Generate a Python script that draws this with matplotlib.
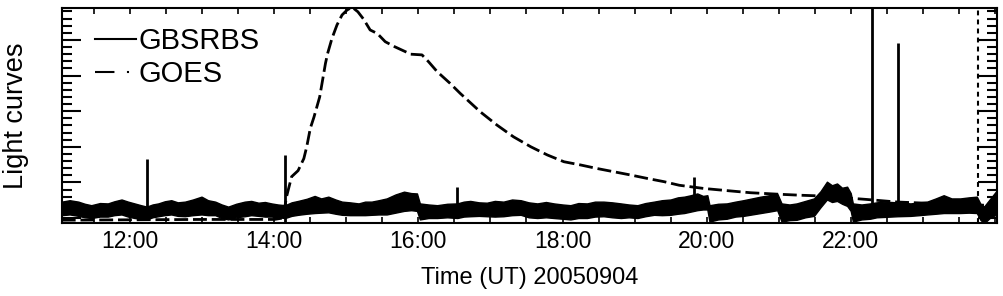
import numpy as np
import matplotlib
matplotlib.use('Agg')
import matplotlib.pyplot as plt
from matplotlib.lines import Line2D
from matplotlib.ticker import FixedLocator, MultipleLocator, FuncFormatter

plt.rcParams['font.family'] = 'Liberation Sans'
plt.rcParams['lines.scale_dashes'] = False

# GBSRBS band (time in hours UT, upper / lower edge of the noisy trace)
gb_t = [11.05, 11.16, 11.28, 11.37, 11.46, 11.58, 11.69, 11.78, 11.88, 11.97,
        12.06, 12.15, 12.23, 12.31, 12.39, 12.48, 12.57, 12.66, 12.76, 12.87,
        12.99, 13.08, 13.18, 13.27, 13.36, 13.47, 13.59, 13.68, 13.78, 13.87,
        13.96, 14.05, 14.15, 14.24, 14.33, 14.45, 14.56, 14.65, 14.75, 14.85,
        14.94, 15.05, 15.17, 15.26, 15.35, 15.45, 15.56, 15.68, 15.80, 15.90,
        15.98, 16.02, 16.14, 16.26, 16.40, 16.54, 16.63, 16.72, 16.84, 16.95,
        17.06, 17.18, 17.30, 17.42, 17.53, 17.65, 17.77, 17.88, 18.00, 18.11,
        18.22, 18.34, 18.45, 18.57, 18.69, 18.81, 18.92, 19.04, 19.15, 19.27,
        19.38, 19.50, 19.60, 19.69, 19.78, 19.87, 19.95, 20.01, 20.04, 20.16,
        20.28, 20.40, 20.51, 20.63, 20.75, 20.87, 20.98, 21.04, 21.15, 21.25,
        21.37, 21.49, 21.58, 21.67, 21.74, 21.81, 21.88, 21.95, 22.00, 22.03,
        22.15, 22.27, 22.36, 22.46, 22.65, 22.83, 22.95, 23.06, 23.18, 23.29,
        23.40, 23.52, 23.64, 23.75, 23.80, 23.85, 23.94, 24.03]
gb_hi = [0.46, 0.50, 0.46, 0.40, 0.36, 0.42, 0.41, 0.47, 0.52, 0.46,
         0.41, 0.36, 0.32, 0.38, 0.41, 0.47, 0.50, 0.44, 0.46, 0.52,
         0.60, 0.50, 0.46, 0.38, 0.32, 0.40, 0.46, 0.48, 0.43, 0.45,
         0.41, 0.38, 0.36, 0.44, 0.48, 0.54, 0.62, 0.55, 0.60, 0.52,
         0.46, 0.44, 0.41, 0.46, 0.46, 0.50, 0.55, 0.66, 0.74, 0.70,
         0.69, 0.41, 0.38, 0.36, 0.40, 0.41, 0.46, 0.48, 0.44, 0.43,
         0.48, 0.46, 0.52, 0.50, 0.44, 0.41, 0.45, 0.41, 0.38, 0.36,
         0.42, 0.41, 0.46, 0.46, 0.44, 0.41, 0.38, 0.36, 0.42, 0.46,
         0.50, 0.52, 0.58, 0.60, 0.64, 0.69, 0.62, 0.64, 0.36, 0.40,
         0.41, 0.46, 0.50, 0.55, 0.60, 0.64, 0.69, 0.41, 0.38, 0.41,
         0.48, 0.55, 0.75, 1.02, 0.92, 0.97, 0.85, 0.88, 0.70, 0.41,
         0.38, 0.41, 0.44, 0.46, 0.44, 0.41, 0.44, 0.46, 0.55, 0.64,
         0.55, 0.55, 0.58, 0.60, 0.40, 0.32, 0.55, 0.78]
gb_lo = [0.08, 0.10, 0.06, 0.02, 0.00, 0.04, 0.04, 0.08, 0.10, 0.04,
         0.00, -0.02, -0.04, 0.02, 0.05, 0.08, 0.10, 0.06, 0.05, 0.08,
         0.10, 0.08, 0.08, 0.00, -0.04, 0.02, 0.05, 0.08, 0.06, 0.04,
         0.04, 0.02, 0.00, 0.06, 0.09, 0.12, 0.14, 0.15, 0.16, 0.12,
         0.09, 0.08, 0.08, 0.08, 0.09, 0.10, 0.10, 0.15, 0.20, 0.22,
         0.20, -0.04, 0.00, 0.00, 0.02, 0.00, 0.04, 0.05, 0.06, 0.05,
         0.04, 0.05, 0.08, 0.09, 0.02, 0.00, 0.02, 0.00, -0.02, -0.04,
         0.00, 0.00, 0.04, 0.05, 0.02, 0.00, 0.02, 0.00, 0.05, 0.09,
         0.08, 0.09, 0.12, 0.14, 0.18, 0.22, 0.24, 0.24, -0.10, -0.04,
         -0.02, 0.04, 0.06, 0.10, 0.14, 0.18, 0.22, -0.10, -0.06, -0.05,
         0.02, 0.06, 0.30, 0.52, 0.45, 0.48, 0.40, 0.34, 0.20, -0.10,
         -0.04, -0.02, 0.02, 0.03, 0.05, 0.06, 0.08, 0.10, 0.12, 0.14,
         0.14, 0.14, 0.15, 0.14, -0.05, -0.15, 0.02, 0.10]

# GBSRBS spikes
spk_t = [12.23, 14.15, 16.53, 19.82, 22.29, 22.65]
spk_base = [0.10, -0.12, 0.20, 0.30, 0.10, 0.20]
spk_top = [1.65, 1.77, 0.88, 1.16, 6.20, 4.91]

# GOES soft X-ray curve
goes_t = [11.05, 12.0, 13.0, 14.0, 14.12, 14.17, 14.24, 14.33, 14.41, 14.45,
          14.50, 14.55, 14.63, 14.71, 14.74, 14.80, 14.87, 14.94, 15.01, 15.08,
          15.16, 15.24, 15.33, 15.43, 15.54, 15.67, 15.82, 15.89, 16.05, 16.14,
          16.26, 16.44, 16.58, 16.86, 17.09, 17.32, 17.56, 17.79, 18.02, 18.25,
          18.48, 18.71, 18.94, 19.18, 19.41, 19.62, 19.96, 20.28, 20.61, 20.98,
          21.30, 21.58, 22.23, 22.64, 23.0, 23.5, 24.03]
goes_v = [-0.06, -0.05, -0.04, -0.04, 0.0, 0.60, 1.16, 1.33, 1.67, 2.00,
          2.52, 2.83, 3.40, 4.34, 4.62, 5.04, 5.42, 5.70, 5.84, 5.92,
          5.79, 5.58, 5.28, 5.18, 4.95, 4.81, 4.67, 4.60, 4.58, 4.39,
          4.11, 3.78, 3.50, 2.98, 2.61, 2.28, 2.00, 1.77, 1.58, 1.49,
          1.39, 1.30, 1.21, 1.11, 1.02, 0.92, 0.83, 0.77, 0.71, 0.67,
          0.64, 0.62, 0.52, 0.45, 0.42, 0.38, 0.35]

t_marker = 23.76
hour_ticks = [12, 14, 16, 18, 20, 22]

fig = plt.figure(figsize=(10.04, 2.96), dpi=100)
ax = fig.add_axes([0.0615, 0.2466, 0.9315, 0.728])

ax.fill_between(gb_t, gb_lo, gb_hi, color='black', lw=1.0, edgecolor='black')
ax.vlines(spk_t, spk_base, spk_top, color='black', lw=2.0)
ax.plot(goes_t, goes_v, color='black', lw=2.0, dashes=(10, 3.5))
ax.axvline(t_marker, color='black', lw=1.5, dashes=(3.5, 3))

ax.set_xlim(11.05, 24.03)
ax.set_ylim(-0.14, 5.91)

ax.xaxis.set_major_locator(FixedLocator(hour_ticks))
ax.xaxis.set_minor_locator(MultipleLocator(0.5))
ax.xaxis.set_major_formatter(FuncFormatter(lambda v, p: '%02d:00' % int(round(v))))
ax.yaxis.set_major_locator(MultipleLocator(1))
ax.yaxis.set_minor_locator(MultipleLocator(0.2))
ax.tick_params(axis='x', which='both', direction='in', top=True, bottom=True,
               length=4, width=1.2, labelsize=16.5, pad=5)
ax.tick_params(axis='y', which='major', direction='in', left=True, right=True,
               length=14, width=1.5)
ax.tick_params(axis='y', which='minor', direction='in', left=True, right=True,
               length=7, width=1.5)
ax.tick_params(axis='y', labelleft=False)
for s in ax.spines.values():
    s.set_linewidth(1.5)

ax.set_xlabel('Time (UT) 20050904', fontsize=17, labelpad=10)
fig.text(0.016, 0.61, 'Light curves', rotation=90, fontsize=19.5,
         ha='center', va='center')

h1 = Line2D([], [], color='black', lw=1.5)
h2 = Line2D([], [], color='black', lw=1.5, dashes=(14, 9, 1.5, 9))
ax.legend([h1, h2], ['GBSRBS', 'GOES'], loc='upper left', frameon=False,
          bbox_to_anchor=(0.0356, 0.91), borderaxespad=0, fontsize=21,
          handlelength=1.4, handletextpad=0.1, labelspacing=0.18,
          borderpad=0)

fig.savefig('out.png', dpi=100)
